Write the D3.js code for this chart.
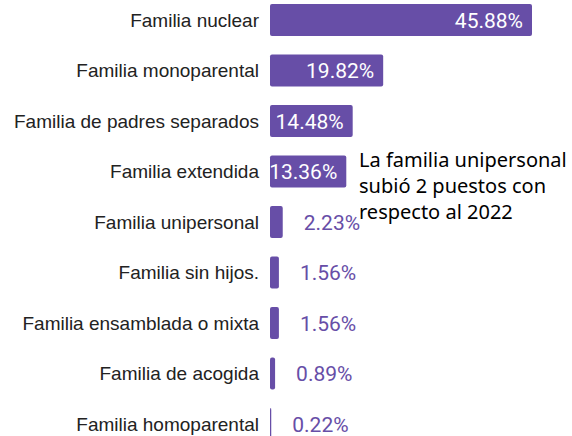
<!DOCTYPE html>
<html>
<head>
<meta charset="utf-8">
<script src="https://cdn.jsdelivr.net/npm/d3@7"></script>
<style>
body { margin: 0; background: #fff; }
</style>
</head>
<body>
<div id="chart"></div>
<script>
// categorias y porcentajes
var categories = ["Familia nuclear", "Familia monoparental", "Familia de padres separados",
  "Familia extendida", "Familia unipersonal", "Familia sin hijos.",
  "Familia ensamblada o mixta", "Familia de acogida", "Familia homoparental"];
var values = [45.88, 19.82, 14.48, 13.36, 2.23, 1.56, 1.56, 0.89, 0.22];
var note = ["La familia unipersonal", "subió 2 puestos con", "respecto al 2022"];

var W = 572, H = 436;
var barColor = "#674ea7";
var left = 270;

var svg = d3.select("#chart").append("svg").attr("width", W).attr("height", H);

var x = d3.scaleLinear().domain([0, 45.88]).range([left, 532]);
var y = d3.scaleBand().domain(categories).range([-5.25, 449.25]).paddingInner(0.366).paddingOuter(0.183);

var rows = svg.selectAll("g.row")
  .data(categories)
  .enter().append("g").attr("class", "row");

rows.append("rect")
  .attr("x", x(0))
  .attr("y", function(d) { return y(d); })
  .attr("width", function(d, i) { return x(values[i]) - x(0); })
  .attr("height", y.bandwidth())
  .attr("rx", 2)
  .attr("fill", barColor);

rows.append("text")
  .attr("x", left - 11)
  .attr("y", function(d) { return y(d) + y.bandwidth() / 2; })
  .attr("dy", "0.35em")
  .attr("text-anchor", "end")
  .style("font-family", "'Liberation Sans', Arial, sans-serif")
  .style("font-size", "19px")
  .attr("fill", "#222")
  .text(function(d) { return d; });

// etiquetas de valor: dentro si cabe, fuera si no
rows.append("text")
  .attr("x", function(d, i) { return values[i] > 10 ? x(values[i]) - 9 : x(values[i]) + 21; })
  .attr("y", function(d) { return y(d) + y.bandwidth() / 2; })
  .attr("dy", "0.36em")
  .attr("text-anchor", function(d, i) { return values[i] > 10 ? "end" : "start"; })
  .style("font-family", "Roboto, sans-serif")
  .style("font-size", "21px")
  .attr("fill", function(d, i) { return values[i] > 10 ? "#fff" : barColor; })
  .attr("stroke", function(d, i) { return values[i] > 10 ? "none" : "#fff"; })
  .attr("stroke-width", 3)
  .attr("paint-order", "stroke")
  .text(function(d, i) { return values[i].toFixed(2) + "%"; });

svg.append("text")
  .attr("x", 359)
  .style("font-family", "'Noto Sans', sans-serif")
  .style("font-size", "20px")
  .attr("fill", "#000")
  .selectAll("tspan")
  .data(note)
  .enter().append("tspan")
  .attr("x", 359)
  .attr("y", function(d, i) { return 167 + i * 26; })
  .text(function(d) { return d; });
</script>
</body>
</html>
